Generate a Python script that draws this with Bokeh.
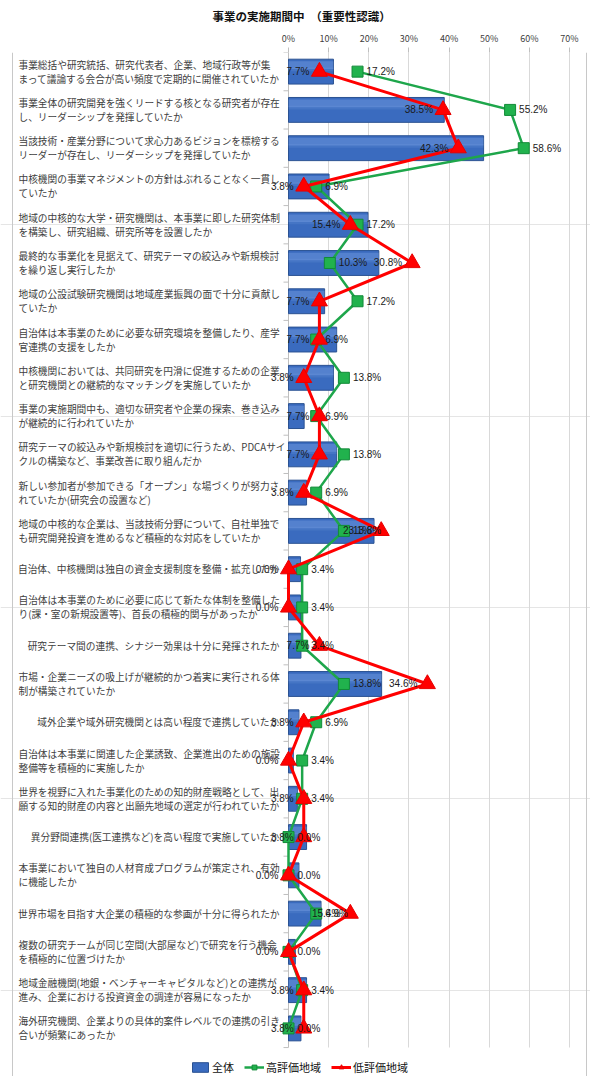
import numpy as np
from bokeh.plotting import figure
from bokeh.models import (Range1d, FixedTicker, PrintfTickFormatter, LinearAxis, Grid,
                          ColumnDataSource, Legend, LegendItem, Span, BoxAnnotation)
from bokeh.core.properties import value
from bokeh.embed import file_html
from bokeh.resources import INLINE

# ---------------- data ----------------
title_text = "事業の実施期間中　（重要性認識）"
series_names = ["全体", "高評価地域", "低評価地域"]
categories = [
    "事業総括や研究統括、研究代表者、企業、地域行政等が集\nまって議論する会合が高い頻度で定期的に開催されていたか",
    "事業全体の研究開発を強くリードする核となる研究者が存在\nし、リーダーシップを発揮していたか",
    "当該技術・産業分野について求心力あるビジョンを標榜する\nリーダーが存在し、リーダーシップを発揮していたか",
    "中核機関の事業マネジメントの方針はぶれることなく一貫し\nていたか",
    "地域の中核的な大学・研究機関は、本事業に即した研究体制\nを構築し、研究組織、研究所等を設置したか",
    "最終的な事業化を見据えて、研究テーマの絞込みや新規検討\nを繰り返し実行したか",
    "地域の公設試験研究機関は地域産業振興の面で十分に貢献し\nていたか",
    "自治体は本事業のために必要な研究環境を整備したり、産学\n官連携の支援をしたか",
    "中核機関においては、共同研究を円滑に促進するための企業\nと研究機関との継続的なマッチングを実施していたか",
    "事業の実施期間中も、適切な研究者や企業の探索、巻き込み\nが継続的に行われていたか",
    "研究テーマの絞込みや新規検討を適切に行うため、PDCAサイ\nクルの構築など、事業改善に取り組んだか",
    "新しい参加者が参加できる「オープン」な場づくりが努力さ\nれていたか(研究会の設置など)",
    "地域の中核的な企業は、当該技術分野について、自社単独で\nも研究開発投資を進めるなど積極的な対応をしていたか",
    "自治体、中核機関は独自の資金支援制度を整備・拡充したか",
    "自治体は本事業のために必要に応じて新たな体制を整備した\nり(課・室の新規設置等)、首長の積極的関与があったか",
    "研究テーマ間の連携、シナジー効果は十分に発揮されたか",
    "市場・企業ニーズの吸上げが継続的かつ着実に実行される体\n制が構築されていたか",
    "域外企業や域外研究機関とは高い程度で連携していたか",
    "自治体は本事業に関連した企業誘致、企業進出のための施設\n整備等を積極的に実施したか",
    "世界を視野に入れた事業化のための知的財産戦略として、出\n願する知的財産の内容と出願先地域の選定が行われていたか",
    "異分野間連携(医工連携など)を高い程度で実施していたか",
    "本事業において独自の人材育成プログラムが策定され、有効\nに機能したか",
    "世界市場を目指す大企業の積極的な参画が十分に得られたか",
    "複数の研究チームが同じ空間(大部屋など)で研究を行う機会\nを積極的に位置づけたか",
    "地域金融機関(地銀・ベンチャーキャピタルなど)との連携が\n進み、企業における投資資金の調達が容易になったか",
    "海外研究機関、企業よりの具体的案件レベルでの連携の引き\n合いが頻繁にあったか",
]
overall = [11.2, 38.8, 48.6, 10.1, 19.8, 22.5, 9.0, 12.0, 11.2, 3.9, 12.0, 4.5, 21.3,
           3.0, 3.0, 3.1, 23.2, 2.6, 1.2, 2.2, 4.5, 2.6, 8.1, 1.7, 4.5, 3.1]
high = [17.2, 55.2, 58.6, 6.9, 17.2, 10.3, 17.2, 6.9, 13.8, 6.9, 13.8, 6.9, 13.8,
        3.4, 3.4, 3.4, 13.8, 6.9, 3.4, 3.4, 0.0, 0.0, 6.9, 0.0, 3.4, 0.0]
low = [7.7, 38.5, 42.3, 3.8, 15.4, 30.8, 7.7, 7.7, 3.8, 7.7, 7.7, 3.8, 23.1,
       0.0, 0.0, 7.7, 34.6, 3.8, 0.0, 3.8, 3.8, 0.0, 15.4, 0.0, 3.8, 3.8]
x_ticks = [0, 10, 20, 30, 40, 50, 60, 70]

# ---------------- layout constants ----------------
W, H = 590, 1076
FRAME_TOP = 50            # top of plotting area (px)
ROWS_BOTTOM = 1047        # bottom of the last category row (px)
X0_PX, XMAX_PX = 288, 569
XMAX = 70.0
k = XMAX / (XMAX_PX - X0_PX)          # data units per pixel (x)
x_start = -X0_PX * k
x_end = XMAX + (W - XMAX_PX) * k

JP = "Noto Sans CJK JP"
LAT = "Liberation Sans"

n = len(categories)
ypos = np.arange(1, n + 1)
row_px = (ROWS_BOTTOM - FRAME_TOP) / n
y_end = 0.5 + (H - FRAME_TOP) / row_px

p = figure(width=W, height=H, x_range=Range1d(x_start, x_end), y_range=Range1d(y_end, 0.5),
           output_backend="svg", toolbar_location=None,
           x_axis_location=None, y_axis_location=None,
           min_border_left=0, min_border_right=0,
           min_border_top=FRAME_TOP, min_border_bottom=0,
           title=title_text)
p.outline_line_color = None
p.background_fill_color = "white"
p.border_fill_color = "white"
p.title.align = "left"
p.title.offset = 212
p.title.text_font = JP
p.title.text_font_size = "11.5px"
p.title.text_font_style = "bold"
p.title.text_color = "#111111"

xaxis = LinearAxis(ticker=FixedTicker(ticks=x_ticks), formatter=PrintfTickFormatter(format="%d%%"),
                   bounds=(0, XMAX))
xaxis.axis_line_color = None
xaxis.major_tick_line_color = "#bfbfbf"
xaxis.major_tick_out = 5
xaxis.major_tick_in = 0
xaxis.minor_tick_line_color = None
xaxis.major_label_standoff = 3
xaxis.major_label_text_font = JP
xaxis.major_label_text_font_size = "9px"
xaxis.major_label_text_color = "#404040"
p.add_layout(xaxis, "above")
p.add_layout(Grid(dimension=0, ticker=xaxis.ticker, grid_line_color="#d9d9d9", grid_line_width=1))
zero_axis = Span(location=0, dimension="height", line_color="#bfbfbf", line_width=1, level="underlay")
p.add_layout(zero_axis)
# white cover below the last category row so grid lines stop at the plot bottom
p.add_layout(BoxAnnotation(top=n + 0.5, fill_color="white", fill_alpha=1, line_color=None,
                           level="underlay"))

# chart-area border lines (left/right)
p.add_layout(Span(location=(12 - X0_PX) * k, dimension="height", line_color="#c8c8c8", line_width=1))
p.add_layout(Span(location=(586 - X0_PX) * k, dimension="height", line_color="#c8c8c8", line_width=1))

# category tick marks on the value-zero axis
bnd = np.arange(0.5, n + 1)
p.segment(x0=-5 * k, x1=0, y0=bnd, y1=bnd, line_color="#bfbfbf", line_width=1)

# ---------------- data source ----------------
src = ColumnDataSource(dict(
    y=ypos, overall=overall, high=high, low=low,
    high_lbl=[f"{v:.1f}%" for v in high],
    low_lbl=[f"{v:.1f}%" for v in low],
))

bars = p.hbar(y="y", left=0, right="overall", height=0.65, source=src,
              fill_color="#3a6bbf", line_color="#2b5292", line_width=1)
# soft highlight (gradient look)
p.hbar(y=ypos - 0.17, left=0, right=overall, height=0.2,
       fill_color="#86acea", fill_alpha=0.35, line_color=None)
p.hbar(y=ypos - 0.06, left=0, right=overall, height=0.1,
       fill_color="#86acea", fill_alpha=0.15, line_color=None)

gline = p.line(x="high", y="y", source=src, line_color="#1ea64b", line_width=2.5)
gmark = p.scatter(x="high", y="y", source=src, marker="square", size=11,
                  fill_color="#21b24d", line_color="#128a38", line_width=1)
rline = p.line(x="low", y="y", source=src, line_color="#ff0000", line_width=3)
rmark = p.scatter(x="low", y="y", source=src, marker="triangle", size=16,
                  fill_color="#ff0000", line_color="#e60000", line_width=1)

p.text(x="high", y="y", text="high_lbl", source=src, x_offset=9, text_align="left",
       text_baseline="middle", text_font=value(LAT), text_font_size="10px", text_color="#1a1a1a")
p.text(x="low", y="y", text="low_lbl", source=src, x_offset=-10, text_align="right",
       text_baseline="middle", text_font=value(LAT), text_font_size="10px", text_color="#1a1a1a")

# ---------------- category labels ----------------
LBL_LEFT = -(X0_PX - 18) * k
LBL_RIGHT = -(X0_PX - 279) * k
two_y, two_a, two_b, one_y, one_t = [], [], [], [], []
for yy, c in zip(ypos, categories):
    parts = c.split("\n")
    if len(parts) == 2:
        two_y.append(yy); two_a.append(parts[0]); two_b.append(parts[1])
    else:
        one_y.append(yy); one_t.append(parts[0])
lbl_kw = dict(text_baseline="middle", text_font=value(JP), text_font_size="9.7px", text_color="#404040")
p.text(x=[LBL_LEFT] * len(two_y), y=two_y, text=two_a, y_offset=-7, text_align="left", **lbl_kw)
p.text(x=[LBL_LEFT] * len(two_y), y=two_y, text=two_b, y_offset=7, text_align="left", **lbl_kw)
p.text(x=[LBL_RIGHT] * len(one_y), y=one_y, text=one_t, text_align="right", **lbl_kw)

# ---------------- legend ----------------
legend = Legend(items=[LegendItem(label=series_names[0], renderers=[bars]),
                       LegendItem(label=series_names[1], renderers=[gline, gmark]),
                       LegendItem(label=series_names[2], renderers=[rline, rmark])],
                orientation="horizontal", location=(190, 1))
legend.label_text_font = JP
legend.label_text_font_size = "11px"
legend.label_text_color = "#111111"
legend.glyph_width = 20
legend.glyph_height = 12
legend.label_height = 12
legend.label_standoff = 2
legend.spacing = 10
legend.padding = 3
legend.margin = 0
legend.border_line_color = None
legend.background_fill_alpha = 0
p.add_layout(legend)

open("out.html", "w").write(file_html(p, INLINE))
